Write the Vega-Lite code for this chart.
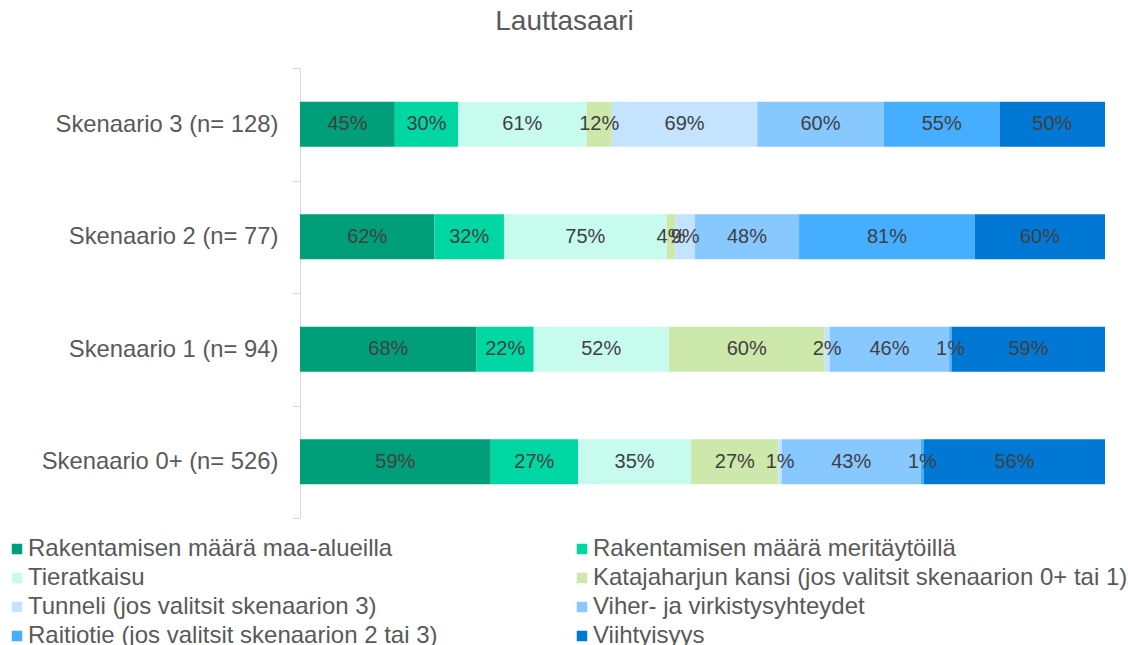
{
  "$schema": "https://vega.github.io/schema/vega-lite/v6.json",
  "width": 805,
  "height": 450,
  "autosize": {"type": "none"},
  "padding": {"left": 300, "top": 68, "right": 23, "bottom": 127},
  "background": "white",
  "title": {"text": "Lauttasaari", "fontSize": 28, "font": "Liberation Sans", "fontWeight": "normal", "color": "#595959", "anchor": "middle", "dx": -138, "offset": 20},
  "config": {"view": {"stroke": null}, "font": "Liberation Sans"},
  "data": {"values": [
    {"scenario": "Skenaario 3 (n= 128)", "category": "Rakentamisen määrä maa-alueilla", "order": 1, "value": 0.45},
    {"scenario": "Skenaario 3 (n= 128)", "category": "Rakentamisen määrä meritäytöillä", "order": 2, "value": 0.30},
    {"scenario": "Skenaario 3 (n= 128)", "category": "Tieratkaisu", "order": 3, "value": 0.61},
    {"scenario": "Skenaario 3 (n= 128)", "category": "Katajaharjun kansi (jos valitsit skenaarion 0+ tai 1)", "order": 4, "value": 0.12},
    {"scenario": "Skenaario 3 (n= 128)", "category": "Tunneli (jos valitsit skenaarion 3)", "order": 5, "value": 0.69},
    {"scenario": "Skenaario 3 (n= 128)", "category": "Viher- ja virkistysyhteydet", "order": 6, "value": 0.60},
    {"scenario": "Skenaario 3 (n= 128)", "category": "Raitiotie (jos valitsit skenaarion 2 tai 3)", "order": 7, "value": 0.55},
    {"scenario": "Skenaario 3 (n= 128)", "category": "Viihtyisyys", "order": 8, "value": 0.50},
    {"scenario": "Skenaario 2 (n= 77)", "category": "Rakentamisen määrä maa-alueilla", "order": 1, "value": 0.62},
    {"scenario": "Skenaario 2 (n= 77)", "category": "Rakentamisen määrä meritäytöillä", "order": 2, "value": 0.32},
    {"scenario": "Skenaario 2 (n= 77)", "category": "Tieratkaisu", "order": 3, "value": 0.75},
    {"scenario": "Skenaario 2 (n= 77)", "category": "Katajaharjun kansi (jos valitsit skenaarion 0+ tai 1)", "order": 4, "value": 0.04},
    {"scenario": "Skenaario 2 (n= 77)", "category": "Tunneli (jos valitsit skenaarion 3)", "order": 5, "value": 0.09},
    {"scenario": "Skenaario 2 (n= 77)", "category": "Viher- ja virkistysyhteydet", "order": 6, "value": 0.48},
    {"scenario": "Skenaario 2 (n= 77)", "category": "Raitiotie (jos valitsit skenaarion 2 tai 3)", "order": 7, "value": 0.81},
    {"scenario": "Skenaario 2 (n= 77)", "category": "Viihtyisyys", "order": 8, "value": 0.60},
    {"scenario": "Skenaario 1 (n= 94)", "category": "Rakentamisen määrä maa-alueilla", "order": 1, "value": 0.68},
    {"scenario": "Skenaario 1 (n= 94)", "category": "Rakentamisen määrä meritäytöillä", "order": 2, "value": 0.22},
    {"scenario": "Skenaario 1 (n= 94)", "category": "Tieratkaisu", "order": 3, "value": 0.52},
    {"scenario": "Skenaario 1 (n= 94)", "category": "Katajaharjun kansi (jos valitsit skenaarion 0+ tai 1)", "order": 4, "value": 0.60},
    {"scenario": "Skenaario 1 (n= 94)", "category": "Tunneli (jos valitsit skenaarion 3)", "order": 5, "value": 0.02},
    {"scenario": "Skenaario 1 (n= 94)", "category": "Viher- ja virkistysyhteydet", "order": 6, "value": 0.46},
    {"scenario": "Skenaario 1 (n= 94)", "category": "Raitiotie (jos valitsit skenaarion 2 tai 3)", "order": 7, "value": 0.01},
    {"scenario": "Skenaario 1 (n= 94)", "category": "Viihtyisyys", "order": 8, "value": 0.59},
    {"scenario": "Skenaario 0+ (n= 526)", "category": "Rakentamisen määrä maa-alueilla", "order": 1, "value": 0.59},
    {"scenario": "Skenaario 0+ (n= 526)", "category": "Rakentamisen määrä meritäytöillä", "order": 2, "value": 0.27},
    {"scenario": "Skenaario 0+ (n= 526)", "category": "Tieratkaisu", "order": 3, "value": 0.35},
    {"scenario": "Skenaario 0+ (n= 526)", "category": "Katajaharjun kansi (jos valitsit skenaarion 0+ tai 1)", "order": 4, "value": 0.27},
    {"scenario": "Skenaario 0+ (n= 526)", "category": "Tunneli (jos valitsit skenaarion 3)", "order": 5, "value": 0.01},
    {"scenario": "Skenaario 0+ (n= 526)", "category": "Viher- ja virkistysyhteydet", "order": 6, "value": 0.43},
    {"scenario": "Skenaario 0+ (n= 526)", "category": "Raitiotie (jos valitsit skenaarion 2 tai 3)", "order": 7, "value": 0.01},
    {"scenario": "Skenaario 0+ (n= 526)", "category": "Viihtyisyys", "order": 8, "value": 0.56}
  ]},
  "transform": [
    {"stack": "value", "groupby": ["scenario"], "sort": [{"field": "order", "order": "ascending"}], "offset": "normalize", "as": ["s0", "s1"]},
    {"calculate": "(datum.s0 + datum.s1) / 2", "as": "mid"}
  ],
  "encoding": {
    "y": {
      "field": "scenario", "type": "nominal",
      "sort": ["Skenaario 3 (n= 128)", "Skenaario 2 (n= 77)", "Skenaario 1 (n= 94)", "Skenaario 0+ (n= 526)"],
      "scale": {"paddingInner": 0, "paddingOuter": 0},
      "axis": {"title": null, "labelFontSize": 23.8, "labelColor": "#595959", "labelFont": "Liberation Sans", "labelPadding": 14, "tickSize": 8, "tickColor": "#D9D9D9", "domainColor": "#D9D9D9", "tickBand": "extent", "labelLimit": 300, "grid": false}
    }
  },
  "layer": [
    {
      "mark": {"type": "bar", "height": {"band": 0.4}},
      "encoding": {
        "x": {"field": "s0", "type": "quantitative", "scale": {"domain": [0, 1], "nice": false, "zero": true}, "axis": null},
        "x2": {"field": "s1"},
        "color": {
          "field": "category", "type": "nominal",
          "scale": {
            "domain": ["Rakentamisen määrä maa-alueilla", "Rakentamisen määrä meritäytöillä", "Tieratkaisu", "Katajaharjun kansi (jos valitsit skenaarion 0+ tai 1)", "Tunneli (jos valitsit skenaarion 3)", "Viher- ja virkistysyhteydet", "Raitiotie (jos valitsit skenaarion 2 tai 3)", "Viihtyisyys"],
            "range": ["#009F7A", "#00D7A2", "#C6FBEE", "#CCE8AA", "#C4E3FF", "#86C8FF", "#45AEFF", "#0078D4"]
          },
          "legend": {
            "title": null, "orient": "none", "legendX": -295, "legendY": 469, "columns": 2, "direction": "horizontal",
            "columnPadding": 132, "rowPadding": 5, "symbolType": "square", "symbolSize": 110, "symbolStrokeWidth": 0,
            "labelFontSize": 24, "labelColor": "#595959", "labelFont": "Liberation Sans", "labelLimit": 700, "labelOffset": -1
          }
        }
      }
    },
    {
      "mark": {"type": "text", "fontSize": 20, "color": "#404040", "font": "Liberation Sans", "align": "center", "baseline": "middle"},
      "encoding": {
        "x": {"field": "mid", "type": "quantitative", "scale": {"domain": [0, 1], "nice": false}},
        "text": {"field": "value", "type": "quantitative", "format": ".0%"}
      }
    }
  ]
}
